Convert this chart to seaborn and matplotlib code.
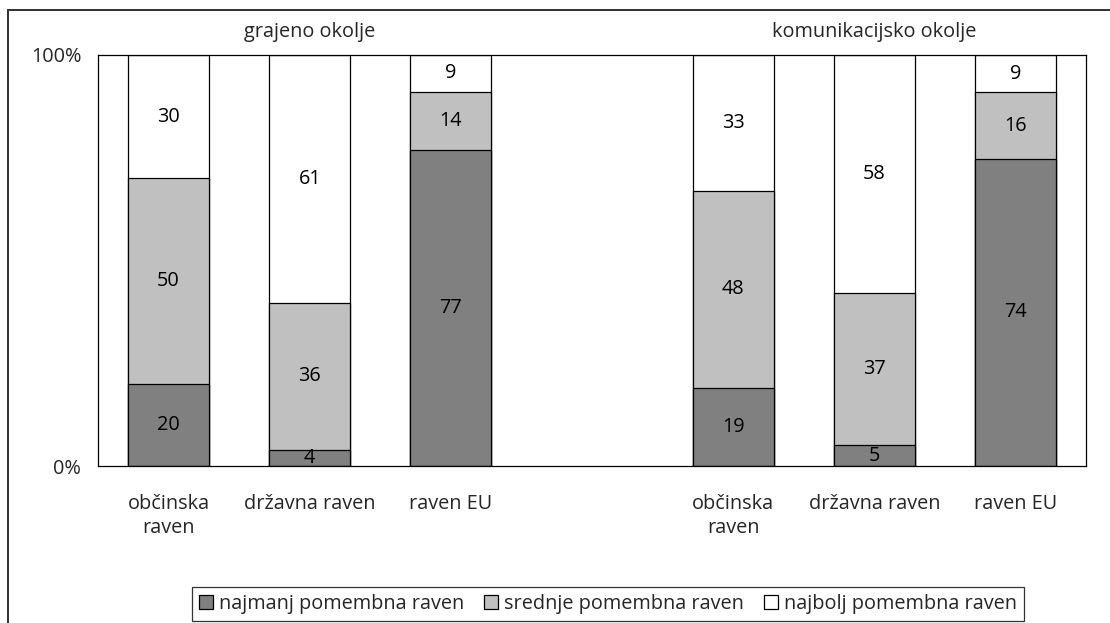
import numpy as np
import pandas as pd
import matplotlib
matplotlib.use("Agg")
import matplotlib.pyplot as plt
from matplotlib.patches import Patch, Rectangle
import seaborn as sns

# ---- data ----
groups = ["grajeno okolje", "komunikacijsko okolje"]
levels = ["občinska\nraven", "državna raven", "raven EU"]
series = ["najmanj pomembna raven", "srednje pomembna raven", "najbolj pomembna raven"]
najmanj = [20, 4, 77, 19, 5, 74]
srednje = [50, 36, 14, 48, 37, 16]
najbolj = [30, 61, 9, 33, 58, 9]
colors = ["#808080", "#c0c0c0", "#ffffff"]

sns.set_theme(style="white")
plt.rcParams["font.family"] = ["Open Sans", "DejaVu Sans"]
FS = 14.3

ids = ["g1_a", "g1_b", "g1_c", "g2_a", "g2_b", "g2_c"]
order = ["g1_a", "g1_b", "g1_c", "gap", "g2_a", "g2_b", "g2_c"]

vals = np.array([najmanj, srednje, najbolj], dtype=float)
shares = vals / vals.sum(axis=0)
cum = np.cumsum(shares, axis=0)

fig = plt.figure(figsize=(11.10, 6.23), dpi=100)
ax = fig.add_axes([98 / 1110, 1 - 466 / 623, (1086 - 98) / 1110, (466 - 55) / 623])

W = 0.575
# draw cumulative layers from top to bottom so they appear stacked
for k in [2, 1, 0]:
    df = pd.DataFrame({"id": ids, "v": cum[k]})
    sns.barplot(data=df, x="id", y="v", order=order, color=colors[k],
                saturation=1, width=W, edgecolor="black", linewidth=0.9,
                ax=ax, errorbar=None)

# value labels at segment centers
pos = {c: i for i, c in enumerate(order)}
for j, cid in enumerate(ids):
    for k in range(3):
        lo = cum[k - 1][j] if k > 0 else 0.0
        mid = (lo + cum[k][j]) / 2
        ax.text(pos[cid], mid, f"{int(vals[k][j])}", ha="center", va="center",
                fontsize=FS, color="black")

ax.set_xlim(-0.5, 6.5)
ax.set_ylim(0, 1)
ax.set_xlabel("")
ax.set_ylabel("")
ax.set_yticks([0, 1])
ax.set_yticklabels(["0%", "100%"], fontsize=FS)
ax.set_xticks([pos[c] for c in ids])
ax.set_xticklabels(levels * 2, fontsize=FS, linespacing=1.3, va="top")
ax.tick_params(axis="both", length=0)
ax.tick_params(axis="x", pad=20)
ax.tick_params(axis="y", pad=12)
for s in ax.spines.values():
    s.set_visible(True)
    s.set_color("black")
    s.set_linewidth(0.9)

# group titles
ax.text(1, 1.056, groups[0], transform=ax.get_xaxis_transform(), ha="center",
        va="center", fontsize=FS)
ax.text(5, 1.056, groups[1], transform=ax.get_xaxis_transform(), ha="center",
        va="center", fontsize=FS)

handles = [Patch(facecolor=c, edgecolor="black", linewidth=0.9) for c in colors]
leg = fig.legend(handles, series, loc="center", bbox_to_anchor=(608 / 1110, 1 - 604 / 623),
                 ncol=3, frameon=True, fancybox=False, fontsize=FS,
                 handlelength=0.7, handleheight=0.7, handletextpad=0.3,
                 columnspacing=1.0, borderpad=0.35)
leg.get_frame().set_edgecolor("black")
leg.get_frame().set_linewidth(0.9)

# outer chart border (left and top visible)
fig.patches.append(Rectangle((8 / 1110, -0.2), 1.3, 0.2 + 1 - 10 / 623,
                             transform=fig.transFigure, fill=False,
                             edgecolor="#303030", linewidth=1.4, clip_on=False))

fig.savefig("out.png", dpi=100)
